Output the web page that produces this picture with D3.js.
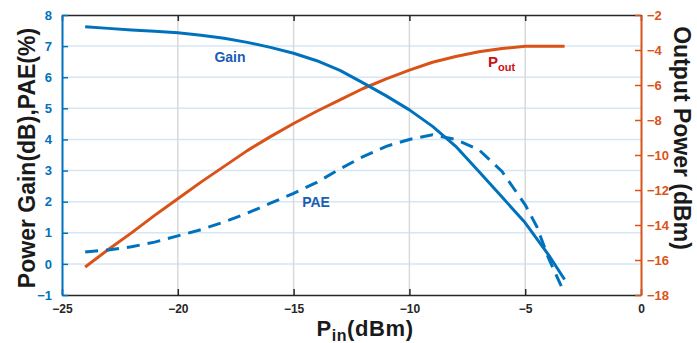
<!DOCTYPE html>
<html><head><meta charset="utf-8">
<script src="https://cdn.jsdelivr.net/npm/d3@7"></script>
<style>body{margin:0;background:#fff}svg{display:block}text{font-family:"Liberation Sans",Arial,sans-serif;font-weight:bold}</style>
</head><body><svg id="c" width="697" height="343"></svg>
<script>
const pinGain = [-24,-23,-22,-21,-20,-19,-18,-17,-16,-15,-14,-13,-12,-11,-10,-9,-8,-7,-6,-5,-4,-3.3];
const gain    = [7.62,7.57,7.52,7.48,7.43,7.35,7.25,7.12,6.96,6.77,6.53,6.22,5.82,5.4,4.95,4.42,3.78,2.97,2.15,1.32,0.3,-0.5];
const pinPout = [-24,-23,-22,-21,-20,-19,-18,-17,-16,-15,-14,-13,-12,-11,-10,-9,-8,-7,-6,-5,-4,-3.3];
const pout    = [-16.4,-15.4,-14.45,-13.45,-12.5,-11.55,-10.65,-9.75,-8.95,-8.2,-7.5,-6.85,-6.2,-5.65,-5.15,-4.7,-4.37,-4.1,-3.92,-3.78,-3.78,-3.78];
const pinPae  = [-24,-23,-22,-21,-20,-19,-18,-17,-16,-15,-14,-13,-12,-11,-10,-9,-8,-7,-6,-5,-4.5,-4,-3.3];
const pae     = [0.38,0.45,0.55,0.7,0.9,1.1,1.35,1.63,1.95,2.27,2.62,3.05,3.45,3.78,4.0,4.15,4.0,3.67,2.97,1.9,1.2,0.2,-0.95];
const xTicks = [-25,-20,-15,-10,-5,0];
const yLeftTicks = [-1,0,1,2,3,4,5,6,7,8];
const yRightTicks = [-18,-16,-14,-12,-10,-8,-6,-4,-2];

const svg = d3.select("#c");
const L=62, R=641, T=15, B=295;
const x = d3.scaleLinear().domain([-25,0]).range([L,R]);
const yL = d3.scaleLinear().domain([-1,8]).range([B,T]);
const yR = d3.scaleLinear().domain([-18,-2]).range([B,T]);
const blue="#0072BD", orange="#D95319";

// grid
svg.append("g").selectAll("line").data(yLeftTicks.slice(1,-1)).join("line")
  .attr("x1",L).attr("x2",R).attr("y1",d=>yL(d)).attr("y2",d=>yL(d))
  .attr("stroke","#d6e6f4").attr("stroke-width",1.5);
svg.append("g").selectAll("line").data(xTicks.slice(1,-1)).join("line")
  .attr("y1",T).attr("y2",B).attr("x1",d=>x(d)).attr("x2",d=>x(d))
  .attr("stroke","#d9d9d9").attr("stroke-width",1.5);

// axes
const gx = svg.append("g").attr("transform",`translate(0,${B})`)
  .call(d3.axisBottom(x).tickValues(xTicks).tickSizeInner(-6).tickSizeOuter(0).tickPadding(9).tickFormat(d3.format("d")));
gx.select(".domain").attr("stroke","#262626").attr("stroke-width",1.5);
gx.selectAll(".tick line").attr("stroke","#262626").attr("stroke-width",1.5);
gx.selectAll("text").attr("fill","#262626").attr("font-size",12).attr("dy","0.71em");
const gt = svg.append("g").attr("transform",`translate(0,${T})`)
  .call(d3.axisTop(x).tickValues(xTicks).tickSizeInner(-6).tickSizeOuter(0).tickFormat(""));
gt.select(".domain").attr("stroke","#262626").attr("stroke-width",1.5);
gt.selectAll(".tick line").attr("stroke","#262626").attr("stroke-width",1.5);

const gl = svg.append("g").attr("transform",`translate(${L},0)`)
  .call(d3.axisLeft(yL).tickValues(yLeftTicks).tickSizeInner(-6).tickSizeOuter(0).tickPadding(10).tickFormat(d3.format("d")));
gl.select(".domain").attr("stroke",blue).attr("stroke-width",2);
gl.selectAll(".tick line").attr("stroke",blue).attr("stroke-width",1.5);
gl.selectAll("text").attr("fill",blue).attr("font-size",13);

const gr = svg.append("g").attr("transform",`translate(${R},0)`)
  .call(d3.axisRight(yR).tickValues(yRightTicks).tickSizeInner(-6).tickSizeOuter(0).tickPadding(6).tickFormat(d3.format("d")));
gr.select(".domain").attr("stroke",orange).attr("stroke-width",2);
gr.selectAll(".tick line").attr("stroke",orange).attr("stroke-width",1.5);
gr.selectAll("text").attr("fill",orange).attr("font-size",13);

// lines
const lineL = d3.line().x(d=>x(d[0])).y(d=>yL(d[1]));
const lineR = d3.line().x(d=>x(d[0])).y(d=>yR(d[1]));
svg.append("path").datum(d3.zip(pinPout,pout)).attr("d",lineR)
  .attr("fill","none").attr("stroke",orange).attr("stroke-width",3).attr("stroke-linejoin","round");
svg.append("path").datum(d3.zip(pinGain,gain)).attr("d",lineL)
  .attr("fill","none").attr("stroke",blue).attr("stroke-width",3).attr("stroke-linejoin","round");
svg.append("path").datum(d3.zip(pinPae,pae)).attr("d",lineL)
  .attr("fill","none").attr("stroke",blue).attr("stroke-width",3).attr("stroke-dasharray","13,8");

// labels
svg.append("text").attr("x",230).attr("y",62).attr("text-anchor","middle")
  .attr("fill","#1a5db5").attr("font-size",14).text("Gain");
svg.append("text").attr("x",316).attr("y",207).attr("text-anchor","middle")
  .attr("fill","#1a5db5").attr("font-size",14).text("PAE");
const po = svg.append("text").attr("x",488).attr("y",67).attr("fill","#cc1111").attr("font-size",15);
po.append("tspan").text("P");
po.append("tspan").attr("font-size",11).attr("dy",4).text("out");

// axis titles
svg.append("text").attr("transform",`translate(35,158) rotate(-90)`)
  .attr("text-anchor","middle").attr("fill","#1a1a1a").attr("font-size",23).text("Power Gain(dB),PAE(%)");
svg.append("text").attr("transform",`translate(674,138) rotate(90)`)
  .attr("text-anchor","middle").attr("fill","#1a1a1a").attr("font-size",23).text("Output Power (dBm)");
const xt = svg.append("text").attr("x",365).attr("y",336).attr("text-anchor","middle")
  .attr("fill","#1a1a1a").attr("font-size",22).attr("letter-spacing",0.6);
xt.append("tspan").text("P");
xt.append("tspan").attr("font-size",16).attr("dy",5).text("in");
xt.append("tspan").attr("dy",-5).text("(dBm)");
</script></body></html>
